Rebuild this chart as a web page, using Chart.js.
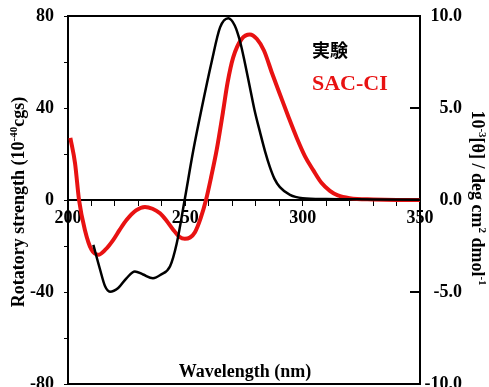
<!DOCTYPE html>
<html>
<head>
<meta charset="utf-8">
<script src="https://cdn.jsdelivr.net/npm/chart.js@4.4.1/dist/chart.umd.min.js"></script>
<style>
html, body { margin: 0; padding: 0; background: #fff; }
#wrap { width: 489px; height: 387px; }
</style>
</head>
<body>
<div id="wrap"><canvas id="cd" width="489" height="387"></canvas></div>
<script>
// experiment (black), right axis: 10^-3 [theta] / deg cm2 dmol-1
var expWl = [210.8, 213.6, 215.8, 217.9, 221.4, 225, 228.5, 232, 236.2, 239.5, 243.5, 246.3, 249.7,
             253.4, 257, 261.2, 264.8, 268.3, 271, 273.3, 275.5, 277.5, 279.5, 281.8, 284, 286, 288,
             290.3, 294.6, 300, 310, 330, 350];
var expTheta = [-2.44, -3.75, -4.69, -4.98, -4.78, -4.24, -3.88, -4.05, -4.25, -4.06, -3.6, -2.38, 0,
                2.7, 5.0, 7.5, 9.38, 9.88, 9.5, 8.63, 7.38, 6.13, 4.88, 3.7, 2.63, 1.8, 1.15,
                0.7, 0.28, 0.1, 0.05, 0.03, 0.01];

// SAC-CI (red), left axis: rotatory strength 10^-40 cgs
var sacWl = [201, 203, 204.7, 207.2, 210, 212.9, 216, 219.3, 222, 225, 229, 232.8, 236, 239.2, 242,
             244.9, 247.5, 249.8, 252, 254.1, 256.5, 258.8, 261, 263.4, 266, 268, 270.4, 274, 277.5,
             280.5, 283.5, 287, 290.3, 294, 297.5, 301, 304.5, 308, 311.6, 315, 320, 330, 340, 350];
var sacR = [27, 16, 0, -13, -21.6, -23.8, -21.5, -17.3, -13, -8.6, -4.5, -3, -3.8, -5.8, -9,
            -13, -16, -16.9, -16.3, -14, -8, 0, 10, 22, 38, 51, 62, 70, 72,
            70, 65, 55, 46, 36, 27, 19, 13, 7.5, 4, 2, 0.8, 0.2, 0, 0];

var xLabels = [200, 250, 300, 350];
var leftLabels = [-80, -40, 0, 40, 80];

var RED = '#e81212';
var serif = "'Liberation Serif', 'DejaVu Serif', serif";

function pts(xs, ys) {
	var out = [];
	for (var i = 0; i < xs.length; i++) out.push({x: xs[i], y: ys[i]});
	return out;
}

// text with superscript parts, rotated around its centre
function richText(ctx, runs, cx, cy, angle, size) {
	var supSize = Math.round(size * 0.62);
	var w = 0;
	runs.forEach(function(r) {
		ctx.font = 'bold ' + (r.sup ? supSize : size) + 'px ' + serif;
		r.w = ctx.measureText(r.t).width;
		w += r.w;
	});
	ctx.save();
	ctx.translate(cx, cy);
	ctx.rotate(angle);
	ctx.textBaseline = 'alphabetic';
	ctx.textAlign = 'left';
	var x = -w / 2;
	runs.forEach(function(r) {
		ctx.font = 'bold ' + (r.sup ? supSize : size) + 'px ' + serif;
		ctx.fillText(r.t, x, r.sup ? size * 0.33 - size * 0.4 : size * 0.33);
		x += r.w;
	});
	ctx.restore();
}

var extras = {
	id: 'extras',
	afterDraw: function(chart) {
		var ctx = chart.ctx, a = chart.chartArea;
		ctx.save();
		ctx.strokeStyle = '#000';
		ctx.lineWidth = 2;
		ctx.beginPath();
		ctx.moveTo(a.left - 1, a.top); ctx.lineTo(a.right + 1, a.top);
		ctx.moveTo(a.left - 1, a.bottom); ctx.lineTo(a.right + 1, a.bottom);
		// inward ticks on right axis
		var y2 = chart.scales.y2;
		y2.ticks.forEach(function(t) {
			var py = y2.getPixelForValue(t.value);
			ctx.moveTo(a.right, py); ctx.lineTo(a.right - 10, py);
		});
		ctx.stroke();

		ctx.fillStyle = '#000';
		richText(ctx, [{t: 'Rotatory strength (10'}, {t: '-40', sup: true}, {t: 'cgs)'}], 18, 202, -Math.PI / 2, 18);
		richText(ctx, [{t: '10'}, {t: '-3', sup: true}, {t: '[\u03b8] / deg cm'}, {t: '2', sup: true},
			{t: ' dmol'}, {t: '-1', sup: true}], 478, 198, Math.PI / 2, 18);

		ctx.font = 'bold 18px ' + serif;
		ctx.textAlign = 'center';
		ctx.textBaseline = 'middle';
		ctx.fillText('Wavelength (nm)', 245, 372);

		ctx.textAlign = 'left';
		ctx.font = "bold 18px 'Noto Sans CJK JP', sans-serif";
		ctx.fillText('実験', 312, 50);
		ctx.fillStyle = RED;
		ctx.font = 'bold 22px ' + serif;
		ctx.fillText('SAC-CI', 312, 84);
		ctx.restore();
	}
};

var tickFont = {family: serif, size: 18, weight: 'bold'};

new Chart(document.getElementById('cd'), {
	type: 'line',
	data: {
		datasets: [{
			label: '実験',
			data: pts(expWl, expTheta),
			yAxisID: 'y2',
			borderColor: '#000',
			borderWidth: 2.5,
			pointRadius: 0,
			fill: false,
			cubicInterpolationMode: 'monotone'
		}, {
			label: 'SAC-CI',
			data: pts(sacWl, sacR),
			yAxisID: 'y',
			borderColor: RED,
			borderWidth: 4,
			pointRadius: 0,
			fill: false,
			cubicInterpolationMode: 'monotone'
		}]
	},
	options: {
		responsive: false,
		animation: false,
		devicePixelRatio: 1,
		layout: {padding: {top: 16, bottom: 3, left: 0, right: 27}},
		plugins: {legend: {display: false}, title: {display: false}, tooltip: {enabled: false}},
		scales: {
			x: {
				type: 'linear',
				position: {y: 0},
				min: 200, max: 350,
				grid: {drawOnChartArea: false, drawTicks: true, tickLength: 5, color: '#000', lineWidth: 1},
				border: {display: true, color: '#000', width: 2},
				ticks: {
					stepSize: 10, autoSkip: false, maxRotation: 0, color: '#000', font: tickFont, padding: 3,
					callback: function(v) { return xLabels.indexOf(v) >= 0 ? String(v) : ''; }
				}
			},
			y: {
				position: 'left',
				min: -80, max: 80,
				grid: {drawOnChartArea: false, drawTicks: true, tickLength: 4, color: '#000', lineWidth: 1},
				border: {display: true, color: '#000', width: 2},
				ticks: {
					stepSize: 20, color: '#000', font: tickFont, padding: 10,
					callback: function(v) { return leftLabels.indexOf(v) >= 0 ? String(v) : ''; }
				},
				afterFit: function(s) { s.width = 68; s.paddingTop = 0; s.paddingBottom = 0; }
			},
			y2: {
				position: 'right',
				min: -10, max: 10,
				grid: {drawOnChartArea: false, drawTicks: false},
				border: {display: true, color: '#000', width: 2},
				ticks: {
					stepSize: 5, color: '#000', font: tickFont, padding: 4, crossAlign: 'far',
					callback: function(v) { return v.toFixed(1); }
				},
				afterFit: function(s) { s.width = 42; s.paddingTop = 0; s.paddingBottom = 0; }
			}
		}
	},
	plugins: [extras]
});
</script>
</body>
</html>
